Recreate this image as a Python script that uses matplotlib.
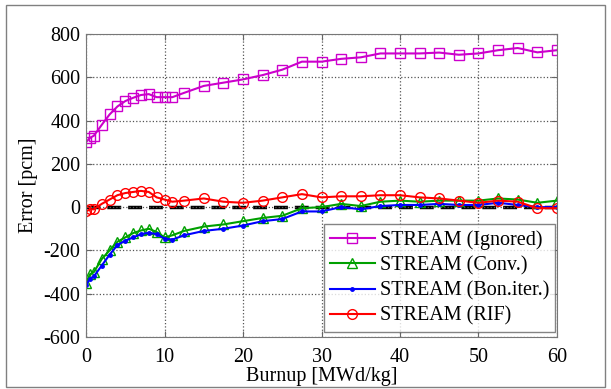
import matplotlib
matplotlib.use("Agg")
import matplotlib.pyplot as plt
from matplotlib.patches import Rectangle

burnup = [0, 0.5, 1, 2, 3, 4, 5, 6, 7, 8, 9, 10, 11, 12.5, 15, 17.5, 20, 22.5, 25,
          27.5, 30, 32.5, 35, 37.5, 40, 42.5, 45, 47.5, 50, 52.5, 55, 57.5, 60]
ignored = [300, 320, 330, 380, 428, 465, 490, 505, 518, 522, 508, 508, 508, 528, 560, 575, 590,
           610, 635, 672, 672, 685, 692, 710, 710, 710, 714, 704, 710, 725, 735, 715, 725]
conv = [-350, -310, -300, -240, -200, -160, -140, -120, -108, -100, -115, -140, -130, -110, -90,
        -80, -65, -50, -40, -5, 0, 15, 5, 25, 30, 25, 30, 30, 30, 40, 35, 20, 30]
boniter = [-360, -330, -320, -270, -220, -175, -155, -140, -125, -118, -125, -145, -150, -130,
           -110, -100, -85, -65, -55, -20, -20, 0, -10, 5, 10, 10, 15, 10, 10, 20, 10, 0, 0]
rif = [-20, -10, -10, 15, 35, 55, 65, 70, 75, 70, 45, 35, 25, 30, 40, 25, 20, 30, 45, 60, 45,
       50, 50, 55, 55, 45, 40, 30, 20, 30, 25, -5, -5]

labels = ["STREAM (Ignored)", "STREAM (Conv.)", "STREAM (Bon.iter.)", "STREAM (RIF)"]

plt.rcParams['font.family'] = ['Liberation Serif', 'DejaVu Serif']
plt.rcParams['axes.unicode_minus'] = False

fig = plt.figure(figsize=(6.11, 3.89), dpi=100)
fig.patches.append(Rectangle((0.0098, 0.006), 0.980, 0.981, transform=fig.transFigure,
                             fill=False, edgecolor='#808080', lw=1.0))
ax = fig.add_axes([0.1408, 0.1337, 0.7708, 0.779])

ax.plot(burnup, ignored, marker='s', ls='-', color='#cc00cc', mfc='none', ms=7, lw=1.5, label=labels[0])
ax.plot(burnup, conv, marker='^', ls='-', color='#00a000', mfc='none', ms=7, lw=1.5, label=labels[1])
ax.plot(burnup, boniter, marker='.', ls='-', color='#0000ff', ms=5, lw=1.5, label=labels[2])
ax.plot(burnup, rif, marker='o', ls='-', color='#ff0000', mfc='none', ms=7, lw=1.5, label=labels[3])
ax.axhline(0, color='black', lw=2.5, ls=(0, (4, 2)), zorder=1.5)

ax.set_xlim(0, 60)
ax.set_ylim(-600, 800)
ax.set_xticks(range(0, 61, 10))
ax.set_yticks(range(-600, 801, 200))
ax.grid(True, ls=':', color='#555555', lw=0.9)
ax.tick_params(labelsize=14.5, direction='in', length=4, color='#666666', top=True, right=True)
ax.tick_params(axis='y', pad=4)
ax.tick_params(axis='x', pad=8)
for s in ax.spines.values():
    s.set_color('#777777')
ax.set_xlabel('Burnup [MWd/kg]', fontsize=14.5, labelpad=0)
ax.set_ylabel('Error [pcm]', fontsize=14.5, labelpad=4)

leg = ax.legend(loc='lower right', bbox_to_anchor=(0.996, 0.0165), fontsize=14.5, frameon=True,
                fancybox=False, edgecolor='#666666', borderaxespad=0, handlelength=2.2,
                borderpad=0.3, labelspacing=0.3, handletextpad=0.25)
leg.get_frame().set_linewidth(1.0)

fig.savefig('out.png', dpi=100)
